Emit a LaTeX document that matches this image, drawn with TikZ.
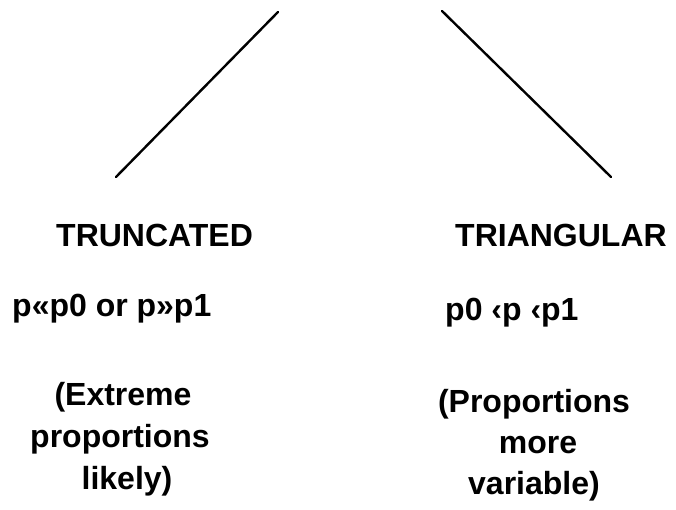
\documentclass[tikz,border=0pt]{standalone}
\usepackage{fontspec}
\setmainfont{Liberation Sans}
\begin{document}
\begin{tikzpicture}[x=1pt,y=1pt,
  lbl/.style={inner sep=0pt,font=\fontsize{32}{41}\selectfont\bfseries},
  branch/.style={line width=2.4pt,line cap=round}]
\useasboundingbox (0,0) rectangle (676,510);
\coordinate (ltop) at (278,498);
\coordinate (lbot) at (116,333);
\coordinate (rtop) at (442,499);
\coordinate (rbot) at (611,333);
\draw[branch] (ltop) -- (lbot);
\draw[branch] (rtop) -- (rbot);
\node[lbl,anchor=base west] (trunc) at (56,263) {TRUNCATED};
\node[lbl,anchor=base west] (tri) at (455,263) {TRIANGULAR};
\node[lbl,anchor=base west] (tcond) at (12,193) {p«p0 or p»p1};
\node[lbl,anchor=base west] (rcond) at (445,189) {p0 ‹p ‹p1};
\node[lbl,anchor=base] (e1) at (123,104) {(Extreme};
\node[lbl,anchor=base] (e2) at (120,62) {proportions};
\node[lbl,anchor=base] (e3) at (127,20) {likely)};
\node[lbl,anchor=base] (v1) at (534,97) {(Proportions};
\node[lbl,anchor=base] (v2) at (538,56) {more};
\node[lbl,anchor=base] (v3) at (534,15) {variable)};
\end{tikzpicture}
\end{document}
